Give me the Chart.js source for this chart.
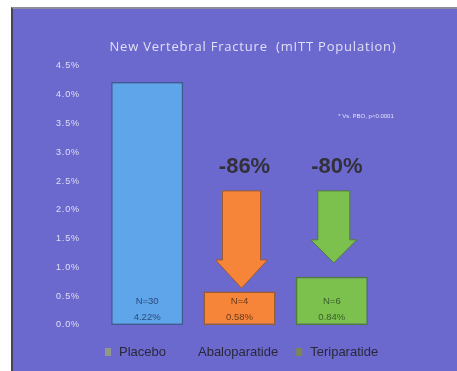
<!DOCTYPE html>
<html>
<head>
<meta charset="utf-8">
<script src="https://cdn.jsdelivr.net/npm/chart.js@4.4.1/dist/chart.umd.min.js"></script>
<style>
  html, body { margin: 0; padding: 0; background: #ffffff; }
  #wrap { position: relative; width: 457px; height: 371px; overflow: hidden; }
  #panel {
    position: absolute; left: 11px; top: 7px; right: 0; bottom: 0;
    background: #6b68ce;
    border-left: 2px solid #46445a;
    border-top: 2px solid #8e8c9c;
  }
  #chart { position: absolute; left: 0; top: 0; }
</style>
</head>
<body>
<div id="wrap">
  <div id="panel"></div>
  <canvas id="chart" width="457" height="371"></canvas>
</div>
<script>
// Study arms and incidence of new vertebral fractures (%)
const categories = ['Placebo', 'Abaloparatide', 'Teriparatide'];
const incidence = [4.22, 0.58, 0.84];
const patientsWithFracture = [30, 4, 6];

// Relative risk reduction vs placebo, shown above the arrows
const reductionLabels = ['', '-86%', '-80%'];
// Arrow extents on the value axis (%)
const arrowFrom = [null, 2.33, 2.33];
const arrowHeadFrom = [null, 1.13, 1.48];
const arrowTo = [null, 0.64, 1.08];

// Value axis
const yMax = 4.5;
const yStep = 0.5;

const chartTitle = 'New Vertebral Fracture  (mITT Population)';
const footnote = '* Vs. PBO, p<0.0001';

// Styling
const fillColors = ['#5fa5e9', '#f6853a', '#7cc04e'];
const borderColors = ['#3e5d8e', '#9c5a30', '#4f7d38'];
const innerTextColors = ['#2c4a7c', '#6a3a1a', '#3a5e2a'];
const legendMarkerColors = ['#8e998a', null, '#7a8752'];

const decorPlugin = {
  id: 'decor',
  afterDatasetsDraw(chart) {
    const ctx = chart.ctx;
    const meta = chart.getDatasetMeta(0);
    const y = chart.scales.y;
    const base = y.getPixelForValue(0);

    ctx.save();
    // Title
    ctx.fillStyle = 'rgba(236,236,250,0.9)';
    ctx.font = '13px "Open Sans", "Liberation Sans", Arial, sans-serif';
    ctx.letterSpacing = '0.8px';
    ctx.textAlign = 'center';
    ctx.textBaseline = 'middle';
    ctx.fillText(chartTitle, 253, 47);
    ctx.letterSpacing = '0px';

    // Footnote
    ctx.font = '6px "Liberation Sans", Arial, sans-serif';
    ctx.fillStyle = 'rgba(240,240,252,0.9)';
    ctx.fillText(footnote, 366, 116);

    meta.data.forEach((bar, i) => {
      const x = bar.x;
      // Count and percentage inside the bar
      ctx.fillStyle = innerTextColors[i];
      ctx.font = '9.5px "Liberation Sans", Arial, sans-serif';
      ctx.textAlign = 'center';
      ctx.fillText('N=' + patientsWithFracture[i], x, base - 24);
      ctx.fillText(incidence[i].toFixed(2) + '%', x, base - 8);

      // Downward arrow
      if (arrowFrom[i] !== null) {
        const yTop = y.getPixelForValue(arrowFrom[i]);
        const yHead = y.getPixelForValue(arrowHeadFrom[i]);
        const yTip = y.getPixelForValue(arrowTo[i]);
        const shaft = i === 1 ? 19 : 16;
        const head = i === 1 ? 26 : 23;
        const ax = x + 2;
        ctx.beginPath();
        ctx.moveTo(ax - shaft, yTop);
        ctx.lineTo(ax + shaft, yTop);
        ctx.lineTo(ax + shaft, yHead);
        ctx.lineTo(ax + head, yHead);
        ctx.lineTo(ax, yTip);
        ctx.lineTo(ax - head, yHead);
        ctx.lineTo(ax - shaft, yHead);
        ctx.closePath();
        ctx.fillStyle = fillColors[i];
        ctx.fill();
        ctx.strokeStyle = borderColors[i];
        ctx.lineWidth = 1;
        ctx.stroke();
      }

      // Reduction label
      if (reductionLabels[i]) {
        ctx.fillStyle = '#33303a';
        ctx.font = 'bold 22px "Liberation Sans", Arial, sans-serif';
        ctx.textAlign = 'center';
        ctx.fillText(reductionLabels[i], x + 5, 167);
      }
    });

    // Legend
    ctx.font = '13px "Liberation Sans", Arial, sans-serif';
    ctx.textAlign = 'left';
    ctx.textBaseline = 'middle';
    let lx = 105;
    const ly = 352;
    categories.forEach((name, i) => {
      if (legendMarkerColors[i]) {
        ctx.fillStyle = legendMarkerColors[i];
        ctx.fillRect(lx, ly - 4, 6, 8);
      }
      ctx.fillStyle = '#2a2838';
      ctx.fillText(name, lx + 14, ly);
      lx += 14 + ctx.measureText(name).width + 18;
    });
    ctx.restore();
  }
};

// Tick labels are drawn with a slightly wider letter spacing
const tickSpacingPlugin = {
  id: 'tickSpacing',
  beforeDraw(chart) { chart.ctx.letterSpacing = '0.9px'; },
  afterDraw(chart) { chart.ctx.letterSpacing = '0px'; }
};

new Chart(document.getElementById('chart'), {
  type: 'bar',
  data: {
    labels: categories,
    datasets: [{
      data: incidence,
      backgroundColor: fillColors,
      borderColor: borderColors,
      borderWidth: 1.5,
      borderSkipped: false,
      categoryPercentage: 1,
      barPercentage: 0.78
    }]
  },
  options: {
    responsive: false,
    animation: false,
    devicePixelRatio: 1,
    layout: { padding: { top: 66, bottom: 46, right: 79, left: 0 } },
    plugins: {
      legend: { display: false },
      title: { display: false },
      tooltip: { enabled: false }
    },
    scales: {
      x: { display: false },
      y: {
        min: 0,
        max: yMax,
        afterFit(scale) { scale.width = 101; },
        grid: { display: false, drawTicks: false },
        border: { display: false },
        ticks: {
          stepSize: yStep,
          padding: 21,
          color: 'rgba(236,236,250,0.9)',
          font: { size: 9, family: '"Liberation Sans", Arial, sans-serif' },
          callback: v => v.toFixed(1) + '%'
        }
      }
    }
  },
  plugins: [tickSpacingPlugin, decorPlugin]
});
</script>
</body>
</html>
